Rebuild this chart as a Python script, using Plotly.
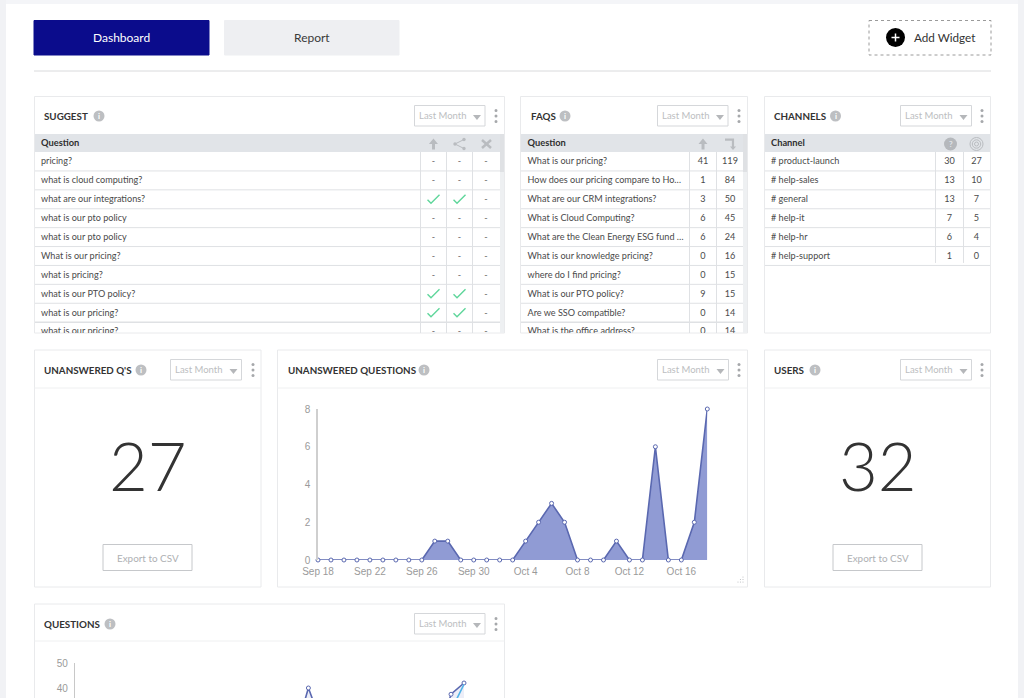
import plotly.graph_objects as go

W, H = 1024, 698
FONT = "Lato"
CHART_FONT = "Liberation Sans"

# ---------- data ----------
suggest_questions = ["pricing?", "what is cloud computing?", "what are our integrations?", "what is our pto policy",
                     "what is our pto policy", "What is our pricing?", "what is pricing?", "what is our PTO policy?",
                     "what is our pricing?", "what is our pricing?"]
suggest_up = ["-", "-", "✓", "-", "-", "-", "-", "✓", "✓", "-"]
suggest_share = ["-", "-", "✓", "-", "-", "-", "-", "✓", "✓", "-"]
suggest_reject = ["-"] * 10

faq_questions = ["What is our pricing?", "How does our pricing compare to Ho…", "What are our CRM integrations?",
                 "What is Cloud Computing?", "What are the Clean Energy ESG fund …", "What is our knowledge pricing?",
                 "where do I find pricing?", "What is our PTO policy?", "Are we SSO compatible?",
                 "What is the office address?"]
faq_up = [41, 1, 3, 6, 6, 0, 0, 9, 0, 0]
faq_asked = [119, 84, 50, 45, 24, 16, 15, 15, 14, 14]

channel_names = ["# product-launch", "# help-sales", "# general", "# help-it", "# help-hr", "# help-support"]
channel_questions = [30, 13, 13, 7, 6, 1]
channel_reach = [27, 10, 7, 5, 4, 0]

dates = ["2023-09-%02d" % d for d in range(18, 31)] + ["2023-10-%02d" % d for d in range(1, 19)]
unanswered = [0, 0, 0, 0, 0, 0, 0, 0, 0, 1, 1, 0, 0, 0, 0, 0, 1, 2, 3, 2, 0, 0, 0, 1, 0, 0, 6, 0, 0, 2, 8]
questions_total = [8, 6, 9, 12, 7, 5, 10, 14, 11, 16, 13, 9, 6, 8, 12, 15, 18, 22, 40, 22, 12, 9, 11, 14, 10, 13, 19, 15, 20, 37.5, 42]
questions_answered = [5, 4, 6, 8, 5, 3, 7, 9, 8, 11, 9, 6, 4, 6, 8, 10, 12, 15, 24, 14, 8, 6, 7, 9, 7, 9, 12, 10, 13, 31, 41.5]

unanswered_count = "27"
users_count = "32"

# ---------- pixel helpers ----------
def px(x): return x / W
def py(y): return 1 - y / H

shapes, annots = [], []

def rect(x0, y0, x1, y1, fill="rgba(0,0,0,0)", line="rgba(0,0,0,0)", lw=1, dash=None):
    ln = dict(color=line, width=lw)
    if dash: ln["dash"] = dash
    shapes.append(dict(type="rect", xref="paper", yref="paper", layer="below", x0=px(x0), x1=px(x1), y0=py(y0), y1=py(y1),
                       fillcolor=fill, line=ln))

def hline(x0, x1, y, color="#dfe1e4", lw=1):
    shapes.append(dict(type="line", xref="paper", yref="paper", layer="below", x0=px(x0), x1=px(x1), y0=py(y), y1=py(y),
                       line=dict(color=color, width=lw)))

def vline(x, y0, y1, color="#dfe1e4", lw=1):
    shapes.append(dict(type="line", xref="paper", yref="paper", layer="below", x0=px(x), x1=px(x), y0=py(y0), y1=py(y1),
                       line=dict(color=color, width=lw)))

def circle(cx, cy, r, fill, line="rgba(0,0,0,0)", lw=0):
    shapes.append(dict(type="circle", xref="paper", yref="paper", layer="below", x0=px(cx - r), x1=px(cx + r), y0=py(cy - r), y1=py(cy + r),
                       fillcolor=fill, line=dict(color=line, width=lw)))

def poly(points, fill="rgba(0,0,0,0)", line="rgba(0,0,0,0)", lw=1, close=True):
    d = "M" + " L".join("%.4f,%.4f" % (px(a), py(b)) for a, b in points) + (" Z" if close else "")
    shapes.append(dict(type="path", xref="paper", yref="paper", layer="below", path=d, fillcolor=fill, line=dict(color=line, width=lw)))

def text(x, y, s, size=12, color="#444", anchor="left", family=FONT, weight=None):
    f = dict(family=family, size=size, color=color)
    if weight: f["weight"] = weight
    annots.append(dict(xref="paper", yref="paper", x=px(x), y=py(y), text=s, showarrow=False, xanchor=anchor,
                       yanchor="middle", font=f, borderpad=0, borderwidth=0))

def card_header(title, tx, ty, icon_x, dd_x0, dd_x1, dots_x):
    text(tx, ty, title, size=9.8, color="#333", weight=700)
    circle(icon_x, ty, 5.5, "#bdbfc2")
    text(icon_x, ty, "i", size=8, color="#fff", anchor="center", weight=700)
    rect(dd_x0, ty - 10.5, dd_x1, ty + 10, fill="#fff", line="#d5d7da")
    text(dd_x0 + 4.5, ty - 1, "Last Month", size=9.5, color="#bcbec1")
    ax = dd_x1 - 8
    poly([(ax - 4, ty - 1), (ax + 4, ty - 1), (ax, ty + 4)], fill="#b5b7ba")
    for dy in (-5.5, 0, 5.5):
        circle(dots_x, ty + dy, 1.5, "#a6a8ab")

# ---------- page frame ----------
rect(0, 0, W, 4, fill="#f4f5f8")
rect(0, 0, 6, H, fill="#f1f2f5")
rect(1018, 0, W, H, fill="#f1f2f5")

# ---------- top buttons ----------
rect(34, 20.5, 209, 55, fill="#0b0c8c", line="#0b0c8c")
text(121.5, 37.5, "Dashboard", size=12, color="#fff", anchor="center")
rect(224.5, 20.5, 399, 55, fill="#eeeff2", line="#eeeff2")
text(312, 37.5, "Report", size=12, color="#3a3a3a", anchor="center")
rect(869, 20.5, 991, 55, line="#9a9a9a", dash="dot")
circle(895.5, 37.5, 9.5, "#000")
hline(891.5, 899.5, 37.5, color="#fff", lw=1.5)
vline(895.5, 33.5, 41.5, color="#fff", lw=1.5)
text(914, 37.5, "Add Widget", size=11.7, color="#333")
hline(34, 991, 71, color="#d9dadc")

# ---------- cards ----------
CARD = "#e9eaec"
cards_row1 = [(34.5, 504.5), (520.5, 747.5), (764.5, 990.5)]
for a, b in cards_row1:
    rect(a, 96.5, b, 333, fill="#fff", line=CARD)
cards_row2 = [(34.5, 261), (277.5, 747.5), (764.5, 990.5)]
for a, b in cards_row2:
    rect(a, 350, b, 587, fill="#fff", line=CARD)
    hline(a, b, 388, color="#eff0f1")
rect(34.5, 604, 504.5, 720, fill="#fff", line=CARD)
hline(34.5, 504.5, 641, color="#eff0f1")

card_header("SUGGEST", 44, 116, 99, 414.5, 485, 496)
card_header("FAQS", 531, 116, 565, 657.5, 728, 739)
card_header("CHANNELS", 774, 116, 835.5, 900.5, 971.5, 982)
card_header("UNANSWERED Q'S", 44, 370, 141, 170.5, 241.5, 253)
card_header("UNANSWERED QUESTIONS", 288, 370, 424, 657.5, 728.5, 739)
card_header("USERS", 774, 370, 815, 900.5, 971.5, 982)
card_header("QUESTIONS", 44, 624, 110, 414.5, 485, 496)

# ---------- big numbers ----------
for cx, val, bx0, bx1 in ((148, unanswered_count, 103, 192), (877.5, users_count, 833, 922)):
    text(cx, 465, val, size=67, color="#333", anchor="center", weight=300)
    rect(bx0, 544.5, bx1, 570.5, fill="#fff", line="#c6c8cb")
    text((bx0 + bx1) / 2, 558, "Export to CSV", size=9.9, color="#aeb0b3", anchor="center")

# ---------- table chrome ----------
ROW0, ROWH = 161.5, 18.9
TEXT_ROW0 = ROW0 + 0.6
TOP, BOTTOM = 134, 333
def row_y(r): return ROW0 + ROWH * r

tables = [
    (35, 500, [420.5, 446.5, 472.5], 10),
    (521, 743, [689.5, 716.5], 10),
    (765, 990, [935.5, 963.5], 6),
]
for x0, x1, cols, nrows in tables:
    rect(x0, TOP, x1, 152, fill="#e1e4e8")
    for r in range(nrows):
        yy = row_y(r) + ROWH / 2
        if yy < BOTTOM - 2:
            hline(x0, x1, yy, lw=1.5 if r == 8 else 1)
    for c in cols:
        vline(c, 152, min(BOTTOM, row_y(nrows - 1) + ROWH / 2 - (0 if nrows == 10 else 2.5)))
for sx in (500, 743):
    rect(sx, TOP, sx + 4, BOTTOM, fill="#eef0f2")
    rect(sx, TOP, sx + 4, 172, fill="#dfe1e4")

# header glyphs
ICON = "#b9bcc0"
def up_arrow(cx, cy=144):
    poly([(cx, cy - 5.5), (cx + 4.5, cy), (cx + 1.5, cy), (cx + 1.5, cy + 5.5), (cx - 1.5, cy + 5.5), (cx - 1.5, cy), (cx - 4.5, cy)], fill=ICON)
up_arrow(433.5)
up_arrow(703)
poly([(464, 139.5), (455, 144), (464, 148.5)], line=ICON, lw=1, close=False)
for a, b in ((464, 139.5), (455, 144), (464, 148.5)):
    circle(a, b, 1.7, ICON)
for a, b in (((482, 140), (491, 148)), ((491, 140), (482, 148))):
    poly([a, b], line=ICON, lw=2.5, close=False)
poly([(725, 139.5), (733, 139.5), (733, 147)], line=ICON, lw=2.2, close=False)
poly([(730, 146.5), (736, 146.5), (733, 150)], fill=ICON)
circle(950.5, 144, 6.5, "#b5b8bc")
text(950.5, 144, "?", size=8, color="#e1e4e8", anchor="center", weight=700)
for r in (6.5, 4.2, 2):
    circle(976.5, 144, r, "rgba(0,0,0,0)", line=ICON, lw=1)

# check icons in the suggest table
for cx, col in ((433.5, suggest_up), (459.5, suggest_share)):
    for r, v in enumerate(col):
        if v == "✓":
            cy = row_y(r)
            poly([(cx - 6, cy + 0.5), (cx - 2.5, cy + 4), (cx + 6, cy - 4.5)], line="#5fd69b", lw=1.4, close=False)

# resize handle
for i in range(3):
    for j in range(i + 1):
        circle(743 - j * 2.5, 582 - (2 - i) * 2.5, 0.6, "#bbbdc0")

# ---------- traces ----------
fig = go.Figure()

# unanswered chart
fig.add_trace(go.Scatter(
    x=dates, y=unanswered, mode="lines+markers", fill="tozeroy", fillcolor="rgba(125,138,205,0.85)",
    line=dict(color="#5a68b0", width=1.6),
    marker=dict(size=4, color="#fff", line=dict(color="#5a68b0", width=1)),
    cliponaxis=False, xaxis="x", yaxis="y", hoverinfo="skip"))

# questions chart
fig.add_trace(go.Scatter(
    x=dates, y=questions_total, mode="lines+markers", fill="tozeroy", fillcolor="rgba(125,138,205,0.15)",
    line=dict(color="#5a68b0", width=1.6),
    marker=dict(size=4, color="#fff", line=dict(color="#5a68b0", width=1)),
    xaxis="x2", yaxis="y2", cliponaxis=False, hoverinfo="skip"))
fig.add_trace(go.Scatter(
    x=dates, y=questions_answered, mode="lines", line=dict(color="#4fb3e8", width=1.6),
    xaxis="x2", yaxis="y2", cliponaxis=False, hoverinfo="skip"))

# table text (clipped at the card bottom through the axis range)
TXT = "#4a4a4a"
BODY = 9.1
def table_trace(xs, ys, labels, pos, size=BODY, color=TXT, family=FONT, weight=None):
    f = dict(family=family, size=size, color=color)
    if weight: f["weight"] = weight
    fig.add_trace(go.Scatter(x=xs, y=ys, text=labels, mode="text", textposition=pos, textfont=f,
                             xaxis="x3", yaxis="y3", hoverinfo="skip"))

def dash_column(cx, labels):
    dashes = [i for i, v in enumerate(labels) if v == "-"]
    table_trace([cx] * len(dashes), dashes, ["-"] * len(dashes), "middle center", color="#666")

rows = list(range(10))
table_trace([41] * 10, rows, suggest_questions, "middle right")
dash_column(433.5, suggest_up)
dash_column(459.5, suggest_share)
dash_column(486, suggest_reject)
table_trace([527.5] * 10, rows, faq_questions, "middle right")
table_trace([703] * 10, rows, [str(v) for v in faq_up], "middle center")
table_trace([730] * 10, rows, [str(v) for v in faq_asked], "middle center")
channel_rows = list(range(len(channel_names)))
table_trace([771] * 6, channel_rows, channel_names, "middle right")
table_trace([949.5] * 6, channel_rows, [str(v) for v in channel_questions], "middle center")
table_trace([976.5] * 6, channel_rows, [str(v) for v in channel_reach], "middle center")
table_trace([41, 527.5, 771], [-1, -1, -1], ["Question", "Question", "Channel"], "middle right", size=9.3, color="#2f2f2f", weight=700)

tick_font = dict(family=CHART_FONT, size=10, color="#9a9a9a")
fig.update_layout(
    template="none",
    width=W, height=H, margin=dict(l=0, r=0, t=0, b=0, pad=0), autosize=False,
    paper_bgcolor="#fff", plot_bgcolor="rgba(0,0,0,0)", showlegend=False,
    shapes=shapes, annotations=annots, hovermode=False,
    xaxis=dict(domain=[px(318), px(707.3)], range=[dates[0], dates[-1]], type="date", tick0=dates[0],
               dtick=4 * 86400000, tickformat="%b %-d", tickfont=tick_font, showgrid=False, zeroline=False,
               showline=False, ticks="outside", ticklen=2, tickcolor="rgba(0,0,0,0)", anchor="y", automargin=False),
    yaxis=dict(domain=[py(560), py(409)], range=[0, 8], tickvals=[0, 2, 4, 6, 8], tickfont=tick_font, showgrid=False,
               zeroline=False, showline=True, linecolor="#cfcfcf", linewidth=1.5, ticks="outside", ticklen=4,
               tickcolor="rgba(0,0,0,0)", anchor="x", automargin=False),
    xaxis2=dict(domain=[px(75), px(464)], range=[dates[0], dates[-1]], type="date", visible=False, anchor="y2", automargin=False),
    yaxis2=dict(domain=[0, py(663)], range=[36, 50], tickvals=[40, 50], tickfont=tick_font, showgrid=False,
                zeroline=False, showline=True, linecolor="#c8c8c8", linewidth=1.2, ticks="outside", ticklen=4,
                tickcolor="rgba(0,0,0,0)", anchor="x2", automargin=False),
    xaxis3=dict(domain=[0, 1], range=[0, W], visible=False, anchor="y3", automargin=False),
    yaxis3=dict(domain=[py(BOTTOM), py(TOP)], range=[(BOTTOM - TEXT_ROW0) / ROWH, (TOP - TEXT_ROW0) / ROWH], visible=False, anchor="x3", automargin=False),
)

fig.write_html("out.html", config=dict(displayModeBar=False),
               post_script="document.body.style.margin='0';document.body.style.overflow='hidden';")
